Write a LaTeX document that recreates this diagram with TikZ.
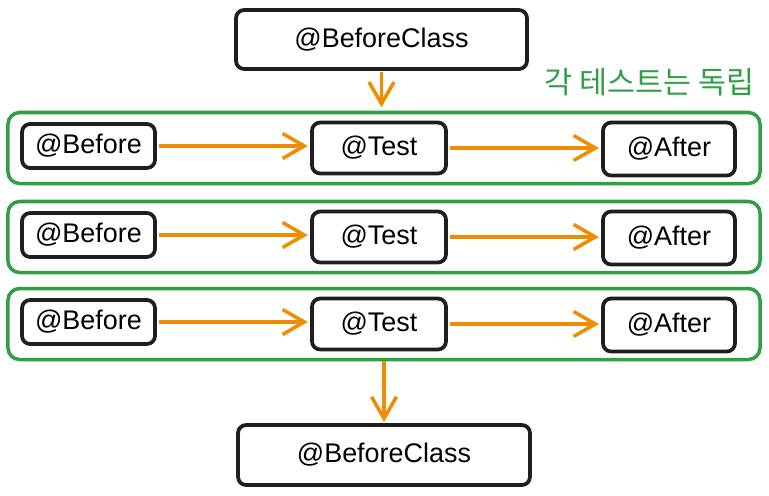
\documentclass[tikz,border=0pt]{standalone}
\usepackage{fontspec}
\setmainfont{Liberation Sans}
\newfontfamily\krfont{Noto Sans CJK KR}
\usetikzlibrary{arrows.meta, positioning}
\definecolor{inkblack}{HTML}{1E1E1E}
\definecolor{leafgreen}{HTML}{2F9E44}
\definecolor{flowamber}{HTML}{F08C00}

\begin{document}
\begin{tikzpicture}[x=0.03cm, y=-0.03cm,
  stage/.style={draw=inkblack, line width=3.2pt, rounded corners=7pt, inner sep=0pt, font=\fontsize{23}{27}\selectfont},
  group/.style={draw=leafgreen, line width=3pt, rounded corners=10pt, minimum width=22.56cm, minimum height=2.13cm},
  flow/.style={draw=flowamber, line width=3pt, -{Straight Barb[length=6.5mm, width=7.5mm]}}]
\useasboundingbox (0,0) rectangle (769,495);

\node [stage, minimum width=8.73cm, minimum height=1.77cm] (firstclass) at (381.5,39.5) {@BeforeClass};
\node [text=leafgreen, font=\krfont\fontsize{26}{30}\selectfont, anchor=east, inner sep=0pt] (note) at (755,82) {각 테스트는 독립};

\foreach \i/\y in {1/148, 2/237, 3/324} {
  \node [group] (group\i) at (384,\y) {};
  \node [stage, minimum width=3.99cm, minimum height=1.32cm] (before\i) at (88.5,\y-2) {@Before};
  \node [stage, minimum width=4.02cm, minimum height=1.53cm] (test\i) at (379,\y) {@Test};
  \node [stage, minimum width=3.96cm, minimum height=1.59cm] (after\i) at (669,\y+1) {@After};
  \draw [flow, shorten <=2pt, shorten >=2pt] (before\i.east) -- (before\i.east -| test\i.west);
  \draw [flow, shorten <=2pt, shorten >=2pt] (test\i.east) -- (test\i.east -| after\i.west);
}

\node [stage, minimum width=8.76cm, minimum height=1.8cm] (lastclass) at (384,455) {@BeforeClass};

\draw [flow, shorten <=1pt, shorten >=3pt] (firstclass.south) -- (firstclass.south |- group1.north);
\draw [flow, shorten >=1pt] (group3.south) -- (lastclass.north);
\end{tikzpicture}
\end{document}
